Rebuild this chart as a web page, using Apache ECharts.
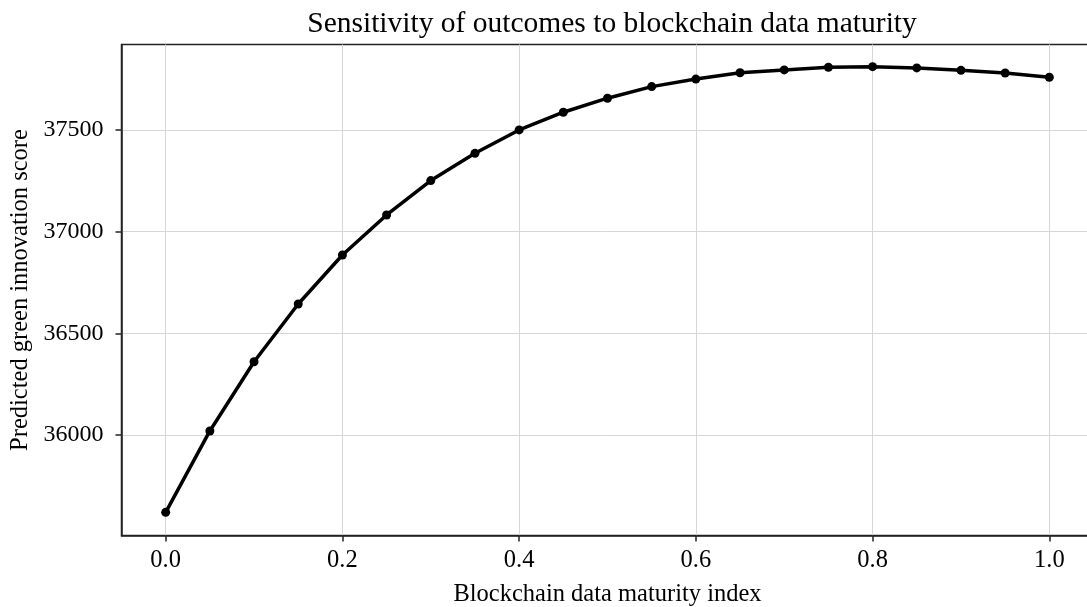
<!DOCTYPE html>
<html>
<head>
<meta charset="utf-8">
<script src="https://cdn.jsdelivr.net/npm/echarts@6/dist/echarts.min.js"></script>
<style>html,body{margin:0;padding:0;background:#fff}#c{width:1087px;height:607px}</style>
</head>
<body>
<div id="c"></div>
<script>
const maturityIndex = [0.0,0.05,0.1,0.15,0.2,0.25,0.3,0.35,0.4,0.45,0.5,0.55,0.6,0.65,0.7,0.75,0.8,0.85,0.9,0.95,1.0];
const predictedScore = [35620,36020,36360,36644,36885,37082,37251,37385,37500,37587,37656,37713,37750,37781,37795,37808,37811,37805,37793,37780,37759];
const xTickValues = [0.0,0.2,0.4,0.6,0.8,1.0];
const yTickValues = [36000,36500,37000,37500];

const FONT = '"Liberation Serif", "DejaVu Serif", serif';
const chart = echarts.init(document.getElementById('c'), null, {renderer:'canvas'});
chart.setOption({
  backgroundColor:'#ffffff',
  animation:false,
  title:{
    text:'Sensitivity of outcomes to blockchain data maturity',
    left:607, top:4, textAlign:'center',
    textStyle:{fontFamily:FONT, fontSize:29.5, fontWeight:'normal', color:'#000'}
  },
  grid:{left:121.5, top:44.5, width:972, height:491, containLabel:false, outerBoundsMode:'none',
    show:true, borderColor:'#222', borderWidth:1.5, backgroundColor:'transparent'},
  xAxis:{
    type:'value', min:-0.05, max:1.05,
    name:'Blockchain data maturity index', nameLocation:'middle', nameGap:47,
    nameTextStyle:{fontFamily:FONT, fontSize:24.5, color:'#000'},
    axisLine:{show:true, onZero:false, lineStyle:{color:'#222', width:1.5}},
    axisTick:{show:true, inside:false, length:6, customValues:xTickValues, lineStyle:{color:'#222', width:1.5}},
    axisLabel:{customValues:xTickValues, margin:13, fontFamily:FONT, fontSize:24.5, color:'#000',
      formatter:v=>v.toFixed(1)},
    splitLine:{show:true, lineStyle:{color:'#d6d6d6', width:1}}
  },
  yAxis:{
    type:'value', min:35506, max:37920,
    name:'Predicted green innovation score', nameLocation:'middle', nameGap:85,
    nameTextStyle:{fontFamily:FONT, fontSize:24.5, color:'#000'},
    axisLine:{show:true, onZero:false, lineStyle:{color:'#222', width:1.5}},
    axisTick:{show:true, inside:false, length:6, customValues:yTickValues, lineStyle:{color:'#222', width:1.5}},
    axisLabel:{customValues:yTickValues, margin:18, fontFamily:FONT, fontSize:24, color:'#000',
      formatter:v=>String(v)},
    splitLine:{show:true, lineStyle:{color:'#d6d6d6', width:1}}
  },
  series:[{
    type:'line',
    data:maturityIndex.map((x,i)=>[x,predictedScore[i]]),
    lineStyle:{color:'#000', width:3.5},
    itemStyle:{color:'#000'},
    symbol:'circle', symbolSize:9, showSymbol:true,
    clip:false
  }]
});
</script>
</body>
</html>
